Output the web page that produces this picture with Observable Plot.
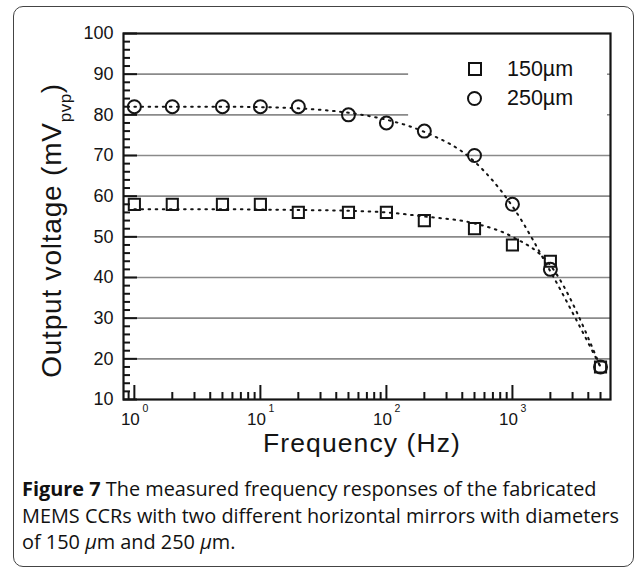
<!DOCTYPE html>
<html><head><meta charset="utf-8">
<script src="https://cdn.jsdelivr.net/npm/d3@7"></script>
<script src="https://cdn.jsdelivr.net/npm/@observablehq/plot@0.6"></script>
<style>
body{margin:0;background:#fff;width:637px;height:568px;position:relative;overflow:hidden;font-family:"Liberation Sans",Arial,sans-serif;}
#frame{position:absolute;left:13px;top:6px;width:621px;height:561px;border:1.2px solid #444;border-radius:10px;box-sizing:border-box;}
#chart{position:absolute;left:0;top:0;}
.leg{position:absolute;font-size:21.5px;line-height:21px;color:#111;}
.sq{position:absolute;width:10px;height:10px;border:2px solid #111;}
.ci{position:absolute;width:11px;height:11px;border:2px solid #111;border-radius:50%;}
#caption{position:absolute;left:22px;top:476px;width:612px;font-family:"Open Sans",Lato,sans-serif;font-size:19.9px;line-height:26.5px;color:#111;white-space:nowrap;}
</style></head>
<body>
<div id="frame"></div>
<div id="chart"></div>
<div class="sq" style="left:468px;top:62px"></div>
<div class="leg" style="left:507px;top:59px">150µm</div>
<div class="ci" style="left:467px;top:91px"></div>
<div class="leg" style="left:507px;top:88px">250µm</div>
<div id="caption"><b>Figure 7</b> The measured frequency responses of the fabricated<br>MEMS CCRs with two different horizontal mirrors with diameters<br>of 150 <i>µ</i>m and 250 <i>µ</i>m.</div>
<script>
// data
const freqs  = [1, 2, 5, 10, 20, 50, 100, 200, 500, 1000, 2000, 5000];
const v150   = [58, 58, 58, 58, 56, 56, 56, 54, 52, 48, 44, 18];
const v250   = [82, 82, 82, 82, 82, 80, 78, 76, 70, 58, 42, 18];
const fit150 = [56.8, 56.8, 56.8, 56.7, 56.6, 56.4, 56, 55, 53.3, 50, 43, 18];
const fit250 = [82, 82, 82, 81.9, 81.6, 80.5, 78.8, 75.8, 68.5, 57.5, 41.5, 18];
const seriesNames = ["150µm", "250µm"];

const xDomain = [0.82, 6000];
const yDomain = [10, 100];
const yMajor = [10, 20, 30, 40, 50, 60, 70, 80, 90, 100];
const yMinor = d3.range(12, 100, 2).filter(v => v % 10 !== 0);
const xMajor = [1, 10, 100, 1000];
const xExp = ["0", "1", "2", "3"];
const xMinor = [0.9, 2,3,4,5,6,7,8,9, 20,30,40,50,60,70,80,90, 200,300,400,500,600,700,800,900, 2000,3000,4000,5000];
const gridFull = [20, 30, 40, 50, 60, 70];
const gridShort = [80, 90];
const gridShortEnd = 150;

const W = 637, H = 460;
const mL = 123, mR = 27, mT = 33, mB = 61;
const iW = W - mL - mR, iH = H - mT - mB;

const pts = (ys) => freqs.map((f, i) => ({f, v: ys[i]}));
const d150 = pts(v150), d250 = pts(v250);
const f150 = pts(fit150), f250 = pts(fit250);

const ink = "#141414";
const chart = Plot.plot({
  width: W, height: H,
  marginLeft: mL, marginRight: mR, marginTop: mT, marginBottom: mB,
  style: {fontFamily: "'Liberation Sans', Arial, sans-serif", fontSize: "18px", color: ink, background: "transparent"},
  x: {type: "log", domain: xDomain},
  y: {domain: yDomain},
  marks: [
    Plot.ruleY(gridFull, {stroke: "#8a8a8a", strokeWidth: 1.6}),
    Plot.ruleY(gridShort, {x1: xDomain[0], x2: gridShortEnd, stroke: "#8a8a8a", strokeWidth: 1.6}),
    Plot.tickY(gridShort, {insetLeft: iW - 3, stroke: "#666", strokeWidth: 1.2}),
    Plot.tickY(yMajor, {insetRight: iW - 14, stroke: ink, strokeWidth: 2}),
    Plot.tickY(yMinor, {insetRight: iW - 7, stroke: ink, strokeWidth: 2}),
    Plot.tickX(xMajor, {insetTop: iH - 14, stroke: ink, strokeWidth: 2}),
    Plot.tickX(xMinor, {insetTop: iH - 7, stroke: ink, strokeWidth: 2}),
    Plot.frame({stroke: ink, strokeWidth: 2.2}),
    Plot.line(f250, {x: "f", y: "v", curve: "monotone-x", stroke: ink, strokeWidth: 2, strokeDasharray: "1.6 5.5", strokeLinecap: "round"}),
    Plot.line(f150, {x: "f", y: "v", curve: "monotone-x", stroke: ink, strokeWidth: 2, strokeDasharray: "1.6 5.5", strokeLinecap: "round"}),
    Plot.dot(d150, {x: "f", y: "v", symbol: "square", r: 6.3, stroke: ink, strokeWidth: 2, fill: "none"}),
    Plot.dot(d250, {x: "f", y: "v", symbol: "circle", r: 6.5, stroke: ink, strokeWidth: 2, fill: "none"}),
    Plot.axisY({ticks: yMajor, tickSize: 0, tickPadding: 10, label: null, fontSize: 18}),
    Plot.axisX({ticks: xMajor, tickSize: 0, tickPadding: 13, tickFormat: () => "10", label: null, fontSize: 17, dx: -4}),
    Plot.text(xMajor, {x: d => d, frameAnchor: "bottom", text: (d, i) => xExp[i], dx: 11, dy: 12, fontSize: 10.5, fill: ink})
  ]
});
document.getElementById("chart").appendChild(chart);

const svg = d3.select(chart);
svg.append("text")
  .attr("transform", "translate(362,452)")
  .attr("text-anchor", "middle")
  .attr("fill", ink)
  .style("font-size", "26.5px").style("letter-spacing", "1.1px")
  .text("Frequency (Hz)");
const yl = svg.append("text")
  .attr("transform", "translate(61,230.5) rotate(-90)")
  .attr("text-anchor", "middle")
  .attr("fill", ink)
  .style("font-size", "28px").style("letter-spacing", "0.8px");
yl.append("tspan").text("Output voltage (mV");
yl.append("tspan").attr("dy", 10).style("font-size", "17px").style("letter-spacing", "0.5px").text("pvp");
yl.append("tspan").attr("dy", -10).text(")");
</script>
</body></html>
